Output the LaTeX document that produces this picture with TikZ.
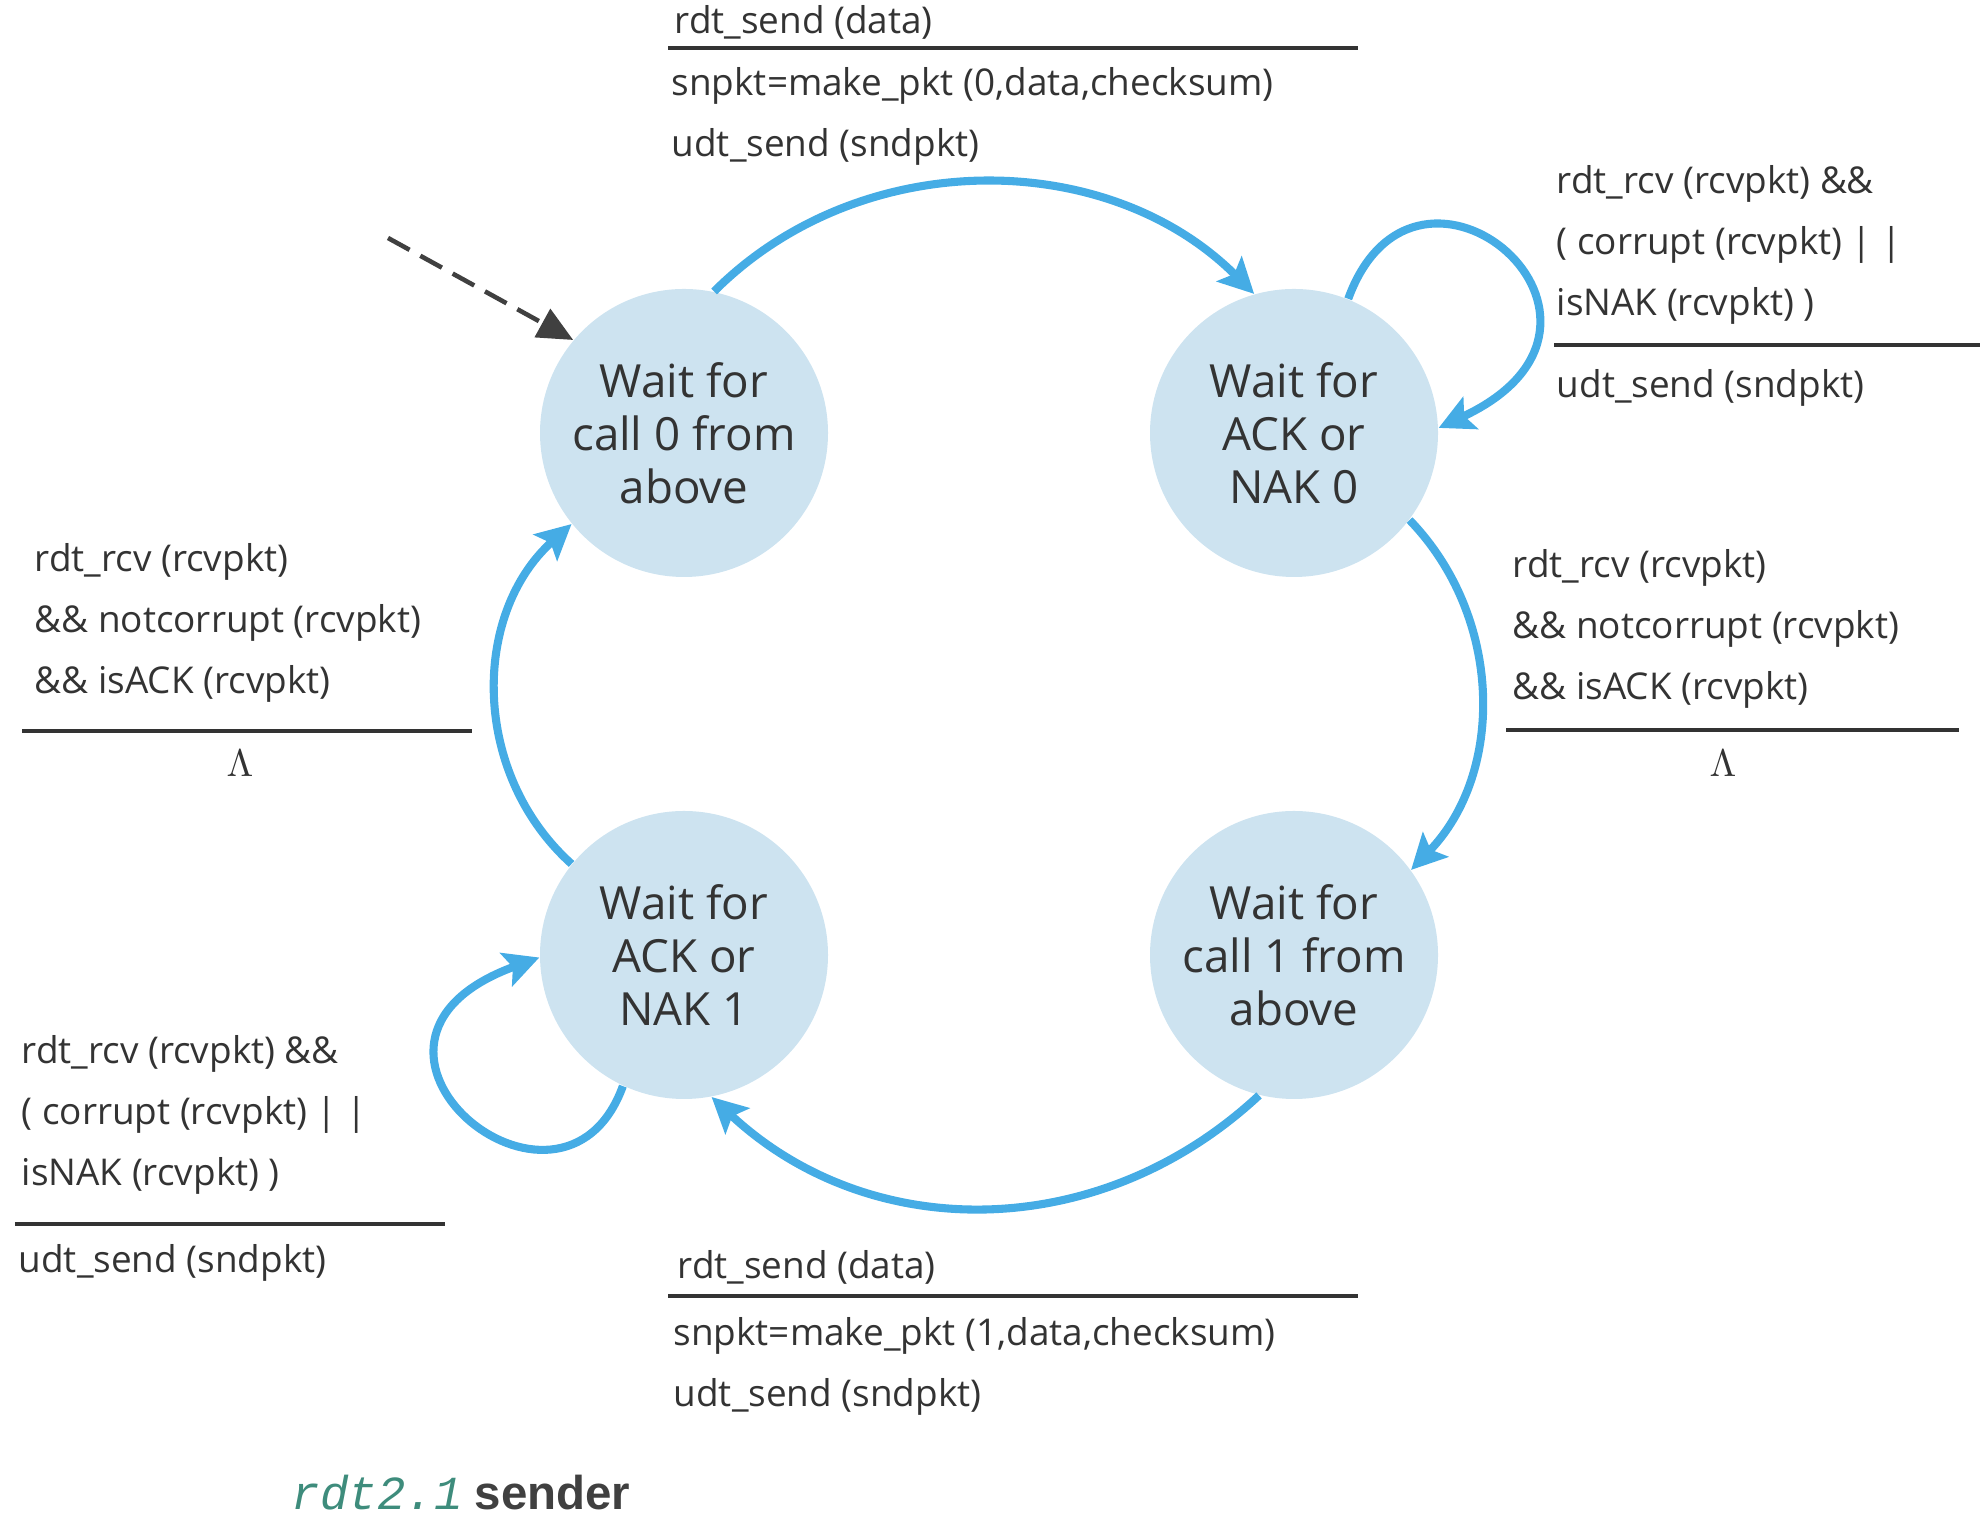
\documentclass[tikz,border=0pt]{standalone}
\usepackage{fontspec}
\setmainfont{Open Sans}
\newfontfamily\captionmono{Liberation Mono}
\newfontfamily\captionsans{Liberation Sans}
\usepackage{xcolor}
\usetikzlibrary{
    arrows.meta,
    calc
}
\definecolor{statefill}{HTML}{CDE3F0}
\definecolor{arcblue}{HTML}{45ACE5}
\definecolor{inktext}{HTML}{333333}
\definecolor{captionteal}{HTML}{3E8C7C}

\begin{document}
\begin{tikzpicture}[
    >={Stealth[length=10pt, width=10pt, inset=2pt]},
    state/.style={
        circle,
        fill=statefill,
        minimum size=2.88cm,
        inner sep=0pt,
        align=center,
        text=inktext,
        font=\fontsize{13}{15.1}\selectfont
    },
    guard/.style={
        anchor=west,
        inner sep=0pt,
        align=left,
        text=inktext,
        font=\fontsize{10.5}{17.4}\selectfont
    },
    lambda/.style={
        inner sep=0pt,
        text=inktext,
        font=\fontsize{11}{12}\selectfont
    },
    transition/.style={
        draw=arcblue,
        line width=2.3pt,
        ->
    },
    initial/.style={
        draw=black!75,
        line width=1.3pt,
        dash pattern=on 7pt off 3.5pt,
        -{Triangle[length=10pt, width=9pt]}
    },
    rule/.style={
        draw=inktext,
        line width=0.9pt
    }
]
    \useasboundingbox (0, 0) rectangle (19.84, 15.28);
    \node[state] (call0) at (6.84, 10.95) {Wait for\\call 0 from\\above};
    \node[state] (ack0) at (12.94, 10.95) {Wait for\\ACK or\\NAK 0};
    \node[state] (call1) at (12.94, 5.73) {Wait for\\call 1 from\\above};
    \node[state] (ack1) at (6.84, 5.73) {Wait for\\ACK or\\NAK 1};
    \coordinate (init) at (3.88, 12.90);
    \draw[initial] (init) -- (call0.140);
    \draw[transition] (call0.78) .. controls +(45:2.07) and +(135:2.07) .. (ack0.106);
    \draw[transition] (ack0.-37) .. controls +(-46:1.35) and +(46:1.35) .. (call1.36);
    \draw[transition] (call1.-104) .. controls +(-137:2.17) and +(-43:2.17) .. (ack1.-79);
    \draw[transition] (ack1.141) .. controls +(138:1.35) and +(-138:1.35) .. (call0.-141);
    \draw[transition] (ack0.68) .. controls +(70:2.0) and +(25:2.5) .. (ack0.2);
    \draw[transition] (ack1.-115) .. controls +(-110:1.8) and +(200:2.5) .. (ack1.181);
    \node[guard] (send0) at (6.74, 15.06) {rdt\_send (data)};
    \draw[rule] (6.68, 14.80) -- (13.58, 14.80);
    \node[guard] (make0) at (6.71, 14.115) {snpkt=make\_pkt (0,data,checksum)\\udt\_send (sndpkt)};
    \node[guard] (nakzero) at (15.56, 12.83) {rdt\_rcv (rcvpkt) \&\&\\( corrupt (rcvpkt) | |\\isNAK (rcvpkt) )};
    \draw[rule] (15.54, 11.83) -- (19.80, 11.83);
    \node[guard] (resend0) at (15.56, 11.40) {udt\_send (sndpkt)};
    \node[guard] (ackzero) at (15.12, 8.99) {rdt\_rcv (rcvpkt)\\\&\& notcorrupt (rcvpkt)\\\&\& isACK (rcvpkt)};
    \draw[rule] (15.06, 7.98) -- (19.59, 7.98);
    \node[lambda] (empty0) at (17.23, 7.65) {$\Lambda$};
    \node[guard] (ackone) at (0.34, 9.05) {rdt\_rcv (rcvpkt)\\\&\& notcorrupt (rcvpkt)\\\&\& isACK (rcvpkt)};
    \draw[rule] (0.22, 7.97) -- (4.72, 7.97);
    \node[lambda] (empty1) at (2.40, 7.65) {$\Lambda$};
    \node[guard] (nakone) at (0.21, 4.13) {rdt\_rcv (rcvpkt) \&\&\\( corrupt (rcvpkt) | |\\isNAK (rcvpkt) )};
    \draw[rule] (0.15, 3.04) -- (4.45, 3.04);
    \node[guard] (resend1) at (0.18, 2.65) {udt\_send (sndpkt)};
    \node[guard] (send1) at (6.77, 2.61) {rdt\_send (data)};
    \draw[rule] (6.68, 2.32) -- (13.58, 2.32);
    \node[guard] (make1) at (6.73, 1.62) {snpkt=make\_pkt (1,data,checksum)\\udt\_send (sndpkt)};
    \node[anchor=west, inner sep=0pt, font=\fontsize{13.5}{15}\selectfont] (caption) at (2.91, 0.35) {\textcolor{captionteal}{\captionmono\itshape rdt2.1} \textcolor{black!75}{\captionsans\bfseries sender}};
\end{tikzpicture}
\end{document}
